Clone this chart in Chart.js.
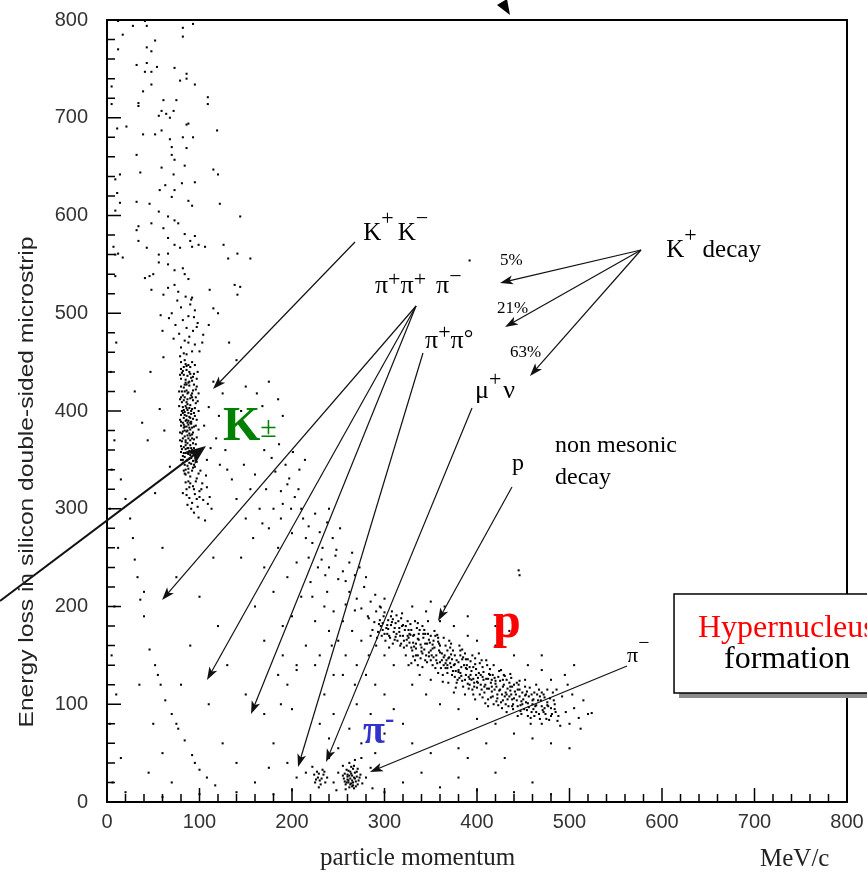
<!DOCTYPE html>
<html>
<head>
<meta charset="utf-8">
<script src="https://cdn.jsdelivr.net/npm/chart.js@4.4.1/dist/chart.umd.min.js"></script>
<style>
html, body { margin: 0; padding: 0; background: #fff; }
#wrap { width: 867px; height: 872px; }
</style>
</head>
<body>
<div id="wrap"><canvas id="c" width="867" height="872"></canvas></div>
<script>
// momentum (MeV/c), energy loss
const upperTrack = [
  [12,799],[28,794],[41,799],[43,794],[82,792],[93,796],[82,783],[17,785],[52,779],[43,772],
  [48,768],[12,770],[32,754],[43,756],[54,752],[73,751],[41,747],[48,747],[86,745],[86,740],
  [79,738],[95,734],[48,734],[5,732],[39,727],[109,721],[109,714],[61,718],[75,718],[34,715],
  [34,712],[5,714],[59,707],[72,707],[56,702],[64,704],[68,700],[11,689],[21,691],[88,694],
  [86,693],[119,687],[39,683],[52,683],[59,687],[68,678],[82,680],[93,680],[70,670],[86,669],
  [32,662],[70,662],[73,657],[84,651],[59,649],[115,647],[120,642],[14,642],[36,644],[72,642],
  [9,637],[95,634],[81,633],[63,631],[57,626],[73,626],[70,619],[11,623],[88,615],[92,610],
  [122,612],[32,614],[46,612],[14,613],[56,604],[9,605],[66,599],[144,599],[73,595],[77,592],
  [34,589],[48,592],[61,587],[32,585],[84,581],[95,579],[66,577],[34,574],[90,574],[73,570],
  [92,568],[99,570],[106,568],[126,570],[43,567],[79,567],[7,568],[9,560],[17,557],[12,561],
  [56,560],[66,561],[141,561],[131,556],[155,556],[56,552],[66,550],[73,544],[82,546],[84,540],
  [88,535],[9,538],[41,536],[46,538],[50,540],[73,529],[66,526],[48,524],[61,519],[111,524],
  [138,529],[144,527],[141,519],[92,516],[392,554]
];
const kaonBand = [
  [85,448],[90,445],[82,441],[94,438],[87,436],[80,433],[92,431],[85,429],[89,426],[83,424],
  [96,422],[81,420],[88,419],[91,416],[84,414],[79,412],[93,411],[86,409],[90,406],[82,404],
  [95,403],[87,401],[84,399],[91,397],[80,396],[89,394],[93,392],[85,390],[82,388],[88,386],
  [96,385],[83,383],[90,381],[86,379],[79,378],[92,376],[84,374],[88,372],[94,371],[81,369],
  [87,367],[90,365],[83,363],[85,361],[92,360],[80,358],[88,356],[95,355],[84,353],[89,351],
  [86,349],[82,347],[91,346],[87,344],[93,342],[88,447],[83,437],[91,434],[86,427],[80,425],
  [94,427],[87,418],[82,416],[90,413],[85,405],[92,402],[81,400],[88,398],[95,395],[83,393],
  [86,391],[91,389],[80,385],[89,383],[84,380],[93,378],[87,375],[82,372],[90,370],[85,368],
  [96,366],[80,364],[88,362],[93,358],[85,357],[82,354],[91,352],[87,350],[84,345],[97,348],
  [79,391],[98,410],[78,420],[97,433],[86,442],[92,450],[84,452],[89,440],[81,409],[94,384],
  [87,362],[90,375],[83,386],[86,421],[92,418],[80,443],[85,432],[89,430],[83,411],[96,414],
  [87,407],[91,400],[84,396],[88,390],[82,379],[90,388],[86,384],[93,367],[81,361],[89,359],
  [85,340],[95,343],[88,337],[92,339],
  [80,450],[95,447],[83,445],[98,440],[79,437],[90,438],[97,425],[84,427],[93,421],[99,418],
  [80,414],[87,412],[96,408],[78,405],[89,403],[99,400],[82,398],[94,398],[86,395],[97,391],
  [80,389],[91,387],[84,384],[99,381],[87,380],[92,372],[79,370],[97,373],[85,370],[91,362],
  [98,360],[83,357],[89,347],[96,352],[80,350],[94,345],[88,341],[83,339],[99,336],[90,326],
  [86,314],[94,320],[102,320],[97,310],[109,305],
  [86,446],[81,439],[93,435],[88,429],[84,420],[92,414],[86,403],[83,401],[90,393],[87,388],
  [92,383],[81,377],[89,377],[85,365],[94,362],[82,350],[90,355],[87,357],[93,349],[85,335],
  [89,322],[96,328],[91,300],[100,312]
];
const kaonHalo = [
  [86,458],[92,461],[80,465],[95,468],[84,472],[89,476],[78,479],[93,482],[86,485],[74,488],
  [98,490],[82,493],[88,497],[70,500],[95,503],[80,506],[90,509],[76,513],[85,517],[100,461],
  [103,470],[72,474],[97,486],[83,459],[67,495],[91,514],[79,456],[88,470],[94,496],[60,482],
  [104,478],[77,522],[110,488],[115,505],[58,498],
  [84,336],[90,333],[97,331],[88,328],[103,326],[93,323],[86,320],[100,318],[108,322],[95,315],
  [89,311],[104,309],[92,306],[111,312],[98,302],[85,327],[107,334],[101,339],[94,296],[113,300],
  [87,304],[99,291],[82,316],[106,288],
  [108,350],[112,362],[118,372],[105,385],[121,395],[110,404],[125,418],[115,430],[57,402],[62,380],
  [38,388],[44,370],[122,345],[130,340],[128,360],[135,375],[68,343],[52,316],[140,452],[132,470],
  [120,500],[145,400],[30,420],[47,440],[61,455]
];
const ridgePoints = [
  [150,425],[162,418],[175,430],[185,412],[168,405],[190,395],
  [170,360],[178,352],[186,366],[193,345],[201,358],[208,340],[214,350],[182,338],[197,331],
  [188,318],[195,325],[203,312],[190,305],[207,320],[199,300],
  [212,290],[218,282],[225,295],[230,276],[238,286],[244,270],[222,265],[233,260],[248,258],[215,270],[240,300],[252,280],
  [232,248],[240,240],[247,252],[255,236],[262,245],[268,232],[258,226],[273,240],[280,230],[236,232],[250,228],[265,255],
  [262,215],[270,208],[278,220],[285,205],[290,212],[275,198],[295,200],[268,196],[282,190],[300,208],[258,202],
  [140,310],[150,290],[158,270],[165,300],[175,280],[145,250],[170,240],[185,260],[195,230],[205,245],
  [180,215],[210,210],[220,225],[200,190],[225,185],[235,200],[160,200],[190,180],[215,160],[240,175],
  [170,165],[230,150],[250,165],[205,140],[245,130],[185,130],
  [190,150],[195,120],[200,95],[188,100],[205,135],
  [225,140],[235,110],[245,90],[255,130],[262,75],[270,100],[240,65],[250,55],[275,60],[230,80],[268,120],
  [135,330],[148,345],[155,320],[160,335],[172,320],[180,300],[168,285],[188,290],[200,275],[210,300],
  [218,250],[228,240],[222,210],[238,215],[245,195],[255,185],[265,175],[243,160],[258,150],[275,165],
  [283,150],[291,160],[270,140],[280,130],[290,120],[300,110],[285,90],[310,95],[320,80],[300,70]
];
const protonBand = [
  [283,188],[287,176],[291,195],[294,182],[297,170],[299,190],[302,178],[304,186],[306,168],[308,195],
  [310,174],[312,183],[314,165],[316,178],[318,188],[320,170],[289,184],[296,199],[301,165],[307,181],
  [313,191],[317,160],[285,170],[293,174],[305,158],[319,180],[298,183],[311,166],[303,172],[309,187],
  [322,176],[324,160],[326,168],[328,182],[330,155],[332,171],[334,162],[336,150],[338,176],[340,158],
  [342,168],[344,145],[346,162],[348,153],[350,170],[352,140],[354,158],[356,150],[358,164],[360,143],
  [323,150],[327,172],[331,163],[335,178],[339,147],[343,156],[347,172],[351,150],[355,137],[359,155],
  [325,185],[333,145],[341,180],[349,163],[357,171],[329,158],[337,166],[345,150],[353,165],[321,165],
  [336,140],[344,172],[352,157],[360,160],[338,130],[326,140],
  [362,152],[364,140],[366,160],[368,132],[370,148],[372,138],[374,155],[376,128],[378,145],[380,135],
  [382,150],[384,124],[386,140],[388,130],[390,146],[392,120],[394,134],[396,126],[398,141],[400,117],
  [363,130],[367,145],[371,158],[375,140],[379,125],[383,138],[387,152],[391,128],[395,115],[399,130],
  [365,150],[369,122],[373,146],[377,134],[381,160],[385,118],[389,136],[393,144],[397,122],[361,137],
  [375,112],[387,110],[370,165],[383,129],[392,138],[368,140],
  [402,132],[404,120],[406,138],[408,112],[410,126],[412,105],[414,130],[416,118],[418,100],[420,124],
  [422,110],[424,134],[426,102],[428,118],[430,108],[432,125],[434,98],[436,114],[438,105],[440,120],
  [403,110],[407,125],[411,140],[415,107],[419,115],[423,128],[427,96],[431,112],[435,122],[439,100],
  [405,145],[413,116],[421,103],[429,130],[437,110],[401,122],[409,101],[417,130],[425,115],[433,105],
  [442,110],[444,98],[446,115],[448,90],[450,105],[452,118],[454,94],[456,108],[458,86],[460,100],
  [462,112],[464,92],[466,104],[468,85],[470,98],[472,110],[474,90],[476,102],[478,84],[480,96],
  [443,122],[449,100],[455,88],[461,95],[467,115],[473,96],[479,106],[447,93],[453,102],[459,110],
  [484,100],[488,88],[492,108],[496,92],[500,80],[505,96],[510,86],[515,104],[520,90],[524,91],
  [486,115],[498,120],[512,75],[490,78],[503,110],
  [330,200],[345,195],[360,185],[375,180],[390,170],[400,165],[420,160],[440,150],[455,140],[470,135],
  [480,125],[495,130],[445,237],[446,232],[470,150],[505,140],[330,120],[345,110],[360,100],[380,95],
  [400,85],[420,80],[440,70],[460,65],[350,125],[310,140],[300,150],[420,180],[435,175],[390,190],
  [410,60],[380,55],[480,60],[500,55],[350,205],[365,200],
  [292,168],[295,186],[298,176],[300,194],[303,181],[305,170],[307,190],[309,162],[311,178],[313,172],
  [315,185],[317,170],[319,193],[321,158],[323,180],[325,170],[327,163],[329,176],[331,149],[333,185],
  [331,170],[334,157],[337,172],[339,161],[341,152],[343,176],[346,143],[348,166],[350,155],[353,148],
  [355,170],[357,142],[359,162],[362,145],[364,168],[366,137],[368,155],[369,147],[341,138],[347,185],
  [354,175],[363,123],[336,183],[358,132],[329,142],
  [371,142],[373,130],[376,150],[378,122],[380,143],[382,132],[385,148],[387,125],[389,140],[391,116],
  [393,130],[395,150],[397,118],[399,136],[401,127],[403,142],[405,115],[407,133],[409,120],[410,145],
  [372,162],[377,117],[384,156],[396,110],[402,152],[388,146],[394,125],[381,127],[406,128],[398,105],
  [411,116],[413,131],[415,122],[417,108],[419,127],[421,118],[423,99],[425,124],[427,110],[429,120],
  [431,100],[433,116],[435,108],[437,127],[439,95],[441,113],[443,104],[445,120],[447,99],[449,112],
  [412,98],[418,140],[426,135],[432,92],[438,118],[444,88],[428,104],[416,125],[436,131],[446,108],
  [451,95],[453,110],[455,101],[457,117],[459,92],[461,105],[463,98],[465,110],[467,90],[469,104],
  [471,94],[473,107],[475,85],[477,98],[481,90],[483,104],[485,92],[487,83],[452,125],[464,120],
  [476,115],[458,80],[470,80],[482,112],
  [296,180],[300,172],[304,177],[308,184],[312,169],[316,174],[320,181],[324,166],[328,171],[332,159],
  [336,167],[340,154],[344,162],[348,149],[352,161],[356,145],[360,153],[364,148],[368,137],[372,151],
  [376,141],[380,133],[384,146],[388,137],[392,126],[396,138],[400,123],[404,130],[408,118],[412,126],
  [416,113],[420,121],[424,114],[428,125],[432,110],[436,118],[440,106],[444,115],[448,103],[452,109],
  [456,97],[460,104],[464,99],[468,108],[472,92],[476,99],[480,88],[484,95],
  [318,162],[326,176],[334,150],[342,172],[350,145],[358,168],[366,142],[374,134],[382,155],[390,121],
  [398,147],[406,107],[414,136],[422,106],[430,129],[438,98],[446,124],[454,113],[462,88],[470,112]
];
const pionSpots = [
  [258,18],[261,22],[264,19],[267,25],[260,28],[263,31],[266,17],[269,21],[256,24],[262,15],
  [265,27],[268,30],[259,33],[271,18],[263,24],[257,29],[266,34],[270,26],[261,20],[264,36],
  [272,22],[258,13],[267,14],[274,28],[262,40],[268,43],[255,37],[276,19],[260,26],[265,22],
  [225,20],[228,25],[231,18],[234,28],[227,31],[230,22],[236,20],[224,28],[233,33],[238,25],
  [229,15],[222,36],
  [245,20],[250,30],[280,25],[285,35],[240,45],[290,50],[215,30],[210,45],[205,25],[275,45],
  [248,12],[287,14],
  [259,20],[262,27],[265,16],[268,24],[261,32],[264,29],[270,31],[257,21],[263,18],[267,37],
  [273,25],[260,23],[266,20],[269,16],[255,27],[271,34],[226,23],[232,24],[235,31],[229,29]
];
const lowScatter = [
  [30,248],[33,230],[36,207],[40,190],[46,156],[52,140],[58,120],[63,104],[70,90],[77,75],
  [84,63],[92,48],[100,33],[108,25],[117,17],[28,270],[25,290],[20,310],[40,215],[55,130],
  [75,80],[95,40],[12,260],[8,200],[5,150],[10,110],[3,80],[15,45],[6,20],[20,10],
  [45,30],[60,50],[70,20],[35,120],[50,80],[80,120],[90,160],[110,100],[125,60],[140,40],
  [160,20],[175,35],[130,140],[150,110],[170,90],[180,60],[195,40],[120,180],[100,210],[75,230],
  [60,260],[115,250],[5,340],[8,370],[4,440],[10,470],[3,300],[15,330],[140,10],[180,8],
  [200,12],[100,8],[60,5],[300,10],[320,20],[340,30],[360,15],[380,25],[400,12],[420,30],
  [440,10],[460,20],[480,8],[350,50],[390,45],[330,60],[430,45]
];

const xTicksStep = 100;
const yTicksStep = 100;

const SERIF = '"Liberation Serif", "Times New Roman", serif';
const SANS = '"Liberation Sans", Arial, sans-serif';

// annotation arrows, in data units (momentum, energy loss)
const arrows = [
  { from: [268.1, 572.9], to: [114.6, 422.5] },
  { from: [334.1, 507.4], to: [59.5, 206.6] },
  { from: [334.1, 507.4], to: [108.1, 124.8] },
  { from: [334.1, 507.4], to: [155.7, 90.0] },
  { from: [341.6, 459.3], to: [206.5, 35.8] },
  { from: [394.6, 403.1], to: [236.8, 40.9] },
  { from: [437.8, 322.3], to: [357.8, 185.2] },
  { from: [562.2, 139.1], to: [284.3, 30.7] },
  { from: [577.3, 564.7], to: [424.9, 531.0] },
  { from: [577.3, 564.7], to: [430.3, 485.9] },
  { from: [577.3, 564.7], to: [457.3, 435.8] },
  { from: [-115.7, 205.6], to: [107.0, 364.2], width: 2, len: 20, half: 8 }
];

// text labels: anchor (left, baseline) in data units, then pieces
const labels = [
  { at: [277.1, 575.4], parts: [
    { t: 'K', f: '25px ' + SERIF }, { t: '+', f: '22px ' + SERIF, dy: -15, gap: 4 },
    { t: 'K', f: '25px ' + SERIF }, { t: '\u2212', f: '22px ' + SERIF, dy: -15 } ] },
  { at: [289.7, 520.4], parts: [
    { t: '\u03c0', f: '26px ' + SERIF }, { t: '+', f: '22px ' + SERIF, dy: -7 },
    { t: '\u03c0', f: '26px ' + SERIF }, { t: '+', f: '22px ' + SERIF, dy: -7, gap: 10 },
    { t: '\u03c0', f: '26px ' + SERIF }, { t: '\u2212', f: '22px ' + SERIF, dy: -10 } ] },
  { at: [424.9, 549.3], parts: [{ t: '5%', f: '17px ' + SERIF }] },
  { at: [421.6, 500.3], parts: [{ t: '21%', f: '17px ' + SERIF }] },
  { at: [435.7, 455.2], parts: [{ t: '63%', f: '17px ' + SERIF }] },
  { at: [343.8, 464.5], parts: [
    { t: '\u03c0', f: '26px ' + SERIF }, { t: '+', f: '22px ' + SERIF, dy: -9 },
    { t: '\u03c0', f: '26px ' + SERIF }, { t: '\u00b0', f: '24px ' + SERIF, dy: -2 } ] },
  { at: [397.8, 413.3], parts: [
    { t: '\u03bc', f: '26px ' + SERIF }, { t: '+', f: '22px ' + SERIF, dy: -12, gap: 2 },
    { t: '\u03bd', f: '26px ' + SERIF } ] },
  { at: [604.5, 557.7], parts: [
    { t: 'K', f: '25px ' + SERIF }, { t: '+', f: '22px ' + SERIF, dy: -15, gap: 6 },
    { t: 'decay', f: '25px ' + SERIF } ] },
  { at: [484.3, 358.1], parts: [{ t: 'non mesonic', f: '24px ' + SERIF }] },
  { at: [484.3, 325.3], parts: [{ t: 'decay', f: '24px ' + SERIF }] },
  { at: [437.8, 339.6], parts: [{ t: 'p', f: '24px ' + SERIF }] },
  { at: [125.4, 370.3], parts: [
    { t: 'K', f: 'bold 48px ' + SERIF, c: '#008000' }, { t: '\u00b1', f: '30px ' + SERIF, c: '#008000', dy: -3 } ] },
  { at: [417.3, 168.8], parts: [{ t: 'p', f: 'bold 50px ' + SERIF, c: '#ff0000' }] },
  { at: [276.8, 60.4], parts: [
    { t: '\u03c0', f: 'bold 40px ' + SERIF, c: '#3333cc' }, { t: '-', f: 'bold 28px ' + SERIF, c: '#3333cc', dy: -16 } ] },
  { at: [562.2, 143.2], parts: [
    { t: '\u03c0', f: '22px ' + SERIF }, { t: '\u2212', f: '20px ' + SERIF, dy: -13 } ] }
];

function toPoints(list) {
  return list.map(p => ({ x: p[0], y: p[1] }));
}

function drawArrow(ctx, x1, y1, x2, y2, w, len, half) {
  const a = Math.atan2(y2 - y1, x2 - x1);
  const c = Math.cos(a), s = Math.sin(a);
  ctx.lineWidth = w;
  ctx.beginPath();
  ctx.moveTo(x1, y1);
  ctx.lineTo(x2 - c * len * 0.7, y2 - s * len * 0.7);
  ctx.stroke();
  ctx.beginPath();
  ctx.moveTo(x2, y2);
  ctx.lineTo(x2 - c * len - s * half, y2 - s * len + c * half);
  ctx.lineTo(x2 - c * len * 0.75, y2 - s * len * 0.75);
  ctx.lineTo(x2 - c * len + s * half, y2 - s * len - c * half);
  ctx.closePath();
  ctx.fill();
}

function drawRich(ctx, x, y, parts) {
  let cx = x;
  for (const p of parts) {
    ctx.font = p.f;
    ctx.fillStyle = p.c || '#000';
    ctx.fillText(p.t, cx, y + (p.dy || 0));
    cx += ctx.measureText(p.t).width + (p.gap || 0);
  }
}

const decor = {
  id: 'decor',
  afterDatasetsDraw(chart) {
    const { ctx, chartArea: a, scales: { x, y } } = chart;
    const px = v => x.getPixelForValue(v);
    const py = v => y.getPixelForValue(v);
    ctx.save();

    // inward ticks, minor every 20
    ctx.strokeStyle = '#000';
    ctx.lineWidth = 1.5;
    ctx.beginPath();
    for (let v = 0; v <= 800; v += 20) {
      const len = v % 100 === 0 ? 14 : 8;
      ctx.moveTo(a.left, py(v));
      ctx.lineTo(a.left + len, py(v));
      ctx.moveTo(px(v), a.bottom);
      ctx.lineTo(px(v), a.bottom - len);
    }
    ctx.stroke();

    ctx.lineWidth = 2;
    ctx.strokeRect(a.left, a.top, a.right - a.left, a.bottom - a.top);

    // arrows
    ctx.strokeStyle = '#111';
    ctx.fillStyle = '#111';
    for (const ar of arrows) {
      drawArrow(ctx, px(ar.from[0]), py(ar.from[1]), px(ar.to[0]), py(ar.to[1]),
        ar.width || 1.2, ar.len || 13, ar.half || 4.5);
    }
    // clipped arrowhead poking in at the top
    ctx.fillStyle = '#000';
    ctx.beginPath();
    ctx.moveTo(px(421.6), py(815.3));
    ctx.lineTo(px(432.4), py(821.5));
    ctx.lineTo(px(435.7), py(805.1));
    ctx.closePath();
    ctx.fill();

    // labels
    ctx.textBaseline = 'alphabetic';
    ctx.textAlign = 'left';
    for (const lb of labels) drawRich(ctx, px(lb.at[0]), py(lb.at[1]), lb.parts);

    // Hypernucleus box
    const bx = px(613.0), by = py(212.8), bw = 220, bh = py(111.5) - by;
    ctx.fillStyle = '#8c8c8c';
    ctx.fillRect(bx + 5, by + 5, bw, bh);
    ctx.fillStyle = '#fff';
    ctx.fillRect(bx, by, bw, bh);
    ctx.strokeStyle = '#000';
    ctx.lineWidth = 1.5;
    ctx.strokeRect(bx, by, bw, bh);
    ctx.font = '32px ' + SERIF;
    ctx.fillStyle = '#ff0000';
    ctx.fillText('Hypernucleus', px(638.9), py(168.8));
    ctx.fillStyle = '#000';
    ctx.fillText('formation', px(667.0), py(137.1));

    // axis titles
    ctx.fillStyle = '#222';
    ctx.font = '25px ' + SERIF;
    ctx.fillText('particle momentum', 320, 865);
    ctx.fillText('MeV/c', 760, 866);

    const yt = 'Energy loss in silicon double-sided microstrip';
    ctx.save();
    ctx.translate(33, 482);
    ctx.rotate(-Math.PI / 2);
    ctx.font = '21px ' + SANS;
    const w = ctx.measureText(yt).width;
    ctx.scale(491 / w, 1);
    ctx.textAlign = 'center';
    ctx.fillText(yt, 0, 0);
    ctx.restore();

    ctx.restore();
  }
};

const dotStyle = {
  pointStyle: 'rect',
  pointRadius: 1.45,
  pointBorderWidth: 0,
  backgroundColor: '#000',
  borderColor: '#000'
};

const groups = [upperTrack, kaonBand, kaonHalo, ridgePoints, protonBand, pionSpots, lowScatter];

new Chart(document.getElementById('c'), {
  type: 'scatter',
  data: {
    datasets: groups.map(g => Object.assign({ data: toPoints(g) }, dotStyle))
  },
  options: {
    responsive: false,
    devicePixelRatio: 1,
    animation: false,
    layout: { padding: { top: 20, right: 20, left: 0, bottom: 0 } },
    plugins: { legend: { display: false }, tooltip: { enabled: false } },
    scales: {
      x: {
        type: 'linear', min: 0, max: 800,
        ticks: { stepSize: xTicksStep, color: '#333', padding: 8, font: { family: SANS, size: 20 } },
        grid: { display: false, drawTicks: false },
        border: { display: false },
        afterFit: s => { s.height = 70; s.paddingLeft = 0; s.paddingRight = 0; }
      },
      y: {
        type: 'linear', min: 0, max: 800,
        ticks: { stepSize: yTicksStep, color: '#333', padding: 19, font: { family: SANS, size: 20 } },
        grid: { display: false, drawTicks: false },
        border: { display: false },
        afterFit: s => { s.width = 107; s.paddingTop = 0; s.paddingBottom = 0; }
      }
    }
  },
  plugins: [decor]
});
</script>
</body>
</html>
